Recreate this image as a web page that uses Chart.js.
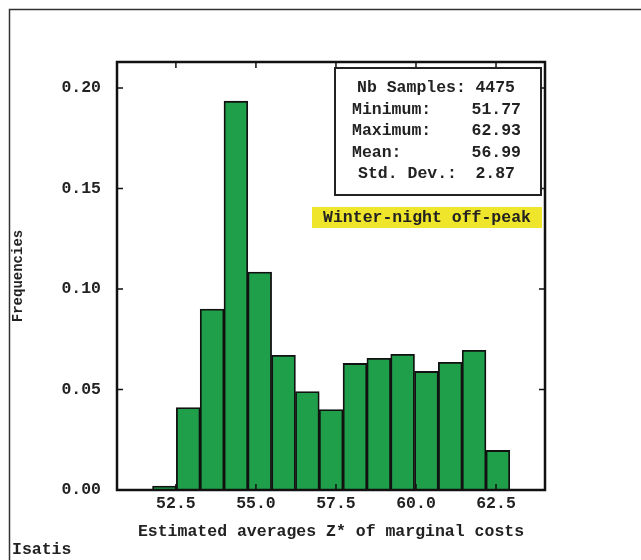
<!DOCTYPE html>
<html>
<head>
<meta charset="utf-8">
<script src="https://cdn.jsdelivr.net/npm/chart.js@4"></script>
<style>
  html, body { margin: 0; padding: 0; background: #fff; }
  #wrap { width: 641px; height: 560px; position: relative; }
</style>
</head>
<body>
<div id="wrap"><canvas id="histo"></canvas></div>
<script>
// histogram bins (centres of 15 classes between min and max)
const binCenters = [52.142, 52.886, 53.630, 54.374, 55.118, 55.862, 56.606, 57.350,
  58.094, 58.838, 59.582, 60.326, 61.070, 61.814, 62.558];
const frequencies = [0.002, 0.041, 0.090, 0.1935, 0.1085, 0.067, 0.049, 0.040,
  0.063, 0.0655, 0.0675, 0.059, 0.0635, 0.0695, 0.0197];
const xTicks = [52.5, 55.0, 57.5, 60.0, 62.5];
const yTicks = [0.00, 0.05, 0.10, 0.15, 0.20];
const statLabels = ["Nb Samples:", "Minimum:", "Maximum:", "Mean:", "Std. Dev.:"];
const statValues = ["4475", "51.77", "62.93", "56.99", "2.87"];
const caption = "Winter-night off-peak";

const FONT = "'Liberation Mono', 'Courier New', monospace";
const INK = "#222";
const SIZE = 16.5;

const decorations = {
  id: "decorations",
  afterDraw(chart) {
    const ctx = chart.ctx;
    const area = chart.chartArea;
    const xs = chart.scales.x;
    const ys = chart.scales.y;
    ctx.save();

    // plot frame
    ctx.strokeStyle = "#111";
    ctx.lineWidth = 2.5;
    ctx.strokeRect(area.left, area.top, area.right - area.left, area.bottom - area.top);

    // inward ticks on all four sides
    ctx.lineWidth = 1.5;
    ctx.beginPath();
    xTicks.forEach(v => {
      const px = xs.getPixelForValue(v);
      ctx.moveTo(px, area.bottom); ctx.lineTo(px, area.bottom - 6);
      ctx.moveTo(px, area.top); ctx.lineTo(px, area.top + 6);
    });
    yTicks.forEach(v => {
      const py = ys.getPixelForValue(v);
      ctx.moveTo(area.left, py); ctx.lineTo(area.left + 6, py);
      ctx.moveTo(area.right, py); ctx.lineTo(area.right - 6, py);
    });
    ctx.stroke();

    // statistics box
    ctx.fillStyle = "#fff";
    ctx.fillRect(335, 68, 206, 127);
    ctx.strokeStyle = "#222";
    ctx.lineWidth = 2;
    ctx.strokeRect(335, 68, 206, 127);

    ctx.font = "bold " + SIZE + "px " + FONT;
    ctx.fillStyle = INK;
    ctx.textBaseline = "middle";
    const lefts = [357, 352, 352, 352, 358];
    const rights = [515, 521, 521, 521, 515];
    statLabels.forEach((lab, i) => {
      const y = 88 + i * 21.5;
      ctx.textAlign = "left";
      ctx.fillText(lab, lefts[i], y);
      ctx.textAlign = "right";
      ctx.fillText(statValues[i], rights[i], y);
    });

    // caption in yellow
    ctx.fillStyle = "#efe52a";
    ctx.fillRect(312, 207, 230, 21);
    ctx.fillStyle = INK;
    ctx.textAlign = "center";
    ctx.fillText(caption, 427, 218);

    // outer frame
    ctx.strokeStyle = "#333";
    ctx.lineWidth = 1.5;
    ctx.beginPath();
    ctx.moveTo(9.5, 560);
    ctx.lineTo(9.5, 9.5);
    ctx.lineTo(641, 9.5);
    ctx.stroke();

    ctx.textAlign = "left";
    ctx.fillText("Isatis", 12, 550);
    ctx.restore();
  }
};

const canvas = document.getElementById("histo");
new Chart(canvas, {
  type: "bar",
  data: {
    datasets: [{
      data: binCenters.map((c, i) => ({ x: c, y: frequencies[i] })),
      backgroundColor: "#1f9f4a",
      borderColor: "#111",
      borderWidth: 1.8,
      barPercentage: 1,
      categoryPercentage: 1
    }]
  },
  options: {
    responsive: true,
    maintainAspectRatio: false,
    animation: false,
    layout: { padding: { top: 62, right: 96, left: 0, bottom: 0 } },
    plugins: { legend: { display: false }, tooltip: { enabled: false } },
    scales: {
      x: {
        type: "linear",
        offset: false,
        min: 50.66,
        max: 64.03,
        afterBuildTicks: s => { s.ticks = xTicks.map(v => ({ value: v })); },
        afterFit: s => { s.height = 70; },
        grid: { display: false, drawTicks: false },
        border: { display: false },
        ticks: {
          padding: 4,
          color: INK,
          font: { family: FONT, size: SIZE, weight: "bold" },
          callback: v => Number(v).toFixed(1)
        },
        title: {
          display: true,
          text: "Estimated averages Z* of marginal costs",
          color: INK,
          font: { family: FONT, size: SIZE, weight: "bold" },
          padding: { top: 0, bottom: 18 }
        }
      },
      y: {
        min: 0,
        max: 0.213,
        afterBuildTicks: s => { s.ticks = yTicks.map(v => ({ value: v })); },
        afterFit: s => { s.width = 117; },
        grid: { display: false, drawTicks: false },
        border: { display: false },
        ticks: {
          padding: 16,
          color: INK,
          font: { family: FONT, size: SIZE, weight: "bold" },
          callback: v => Number(v).toFixed(2)
        },
        title: {
          display: true,
          text: "Frequencies",
          color: INK,
          font: { family: FONT, size: 14, weight: "bold" },
          padding: { top: 10, bottom: 0 }
        }
      }
    }
  },
  plugins: [decorations]
});
</script>
</body>
</html>
